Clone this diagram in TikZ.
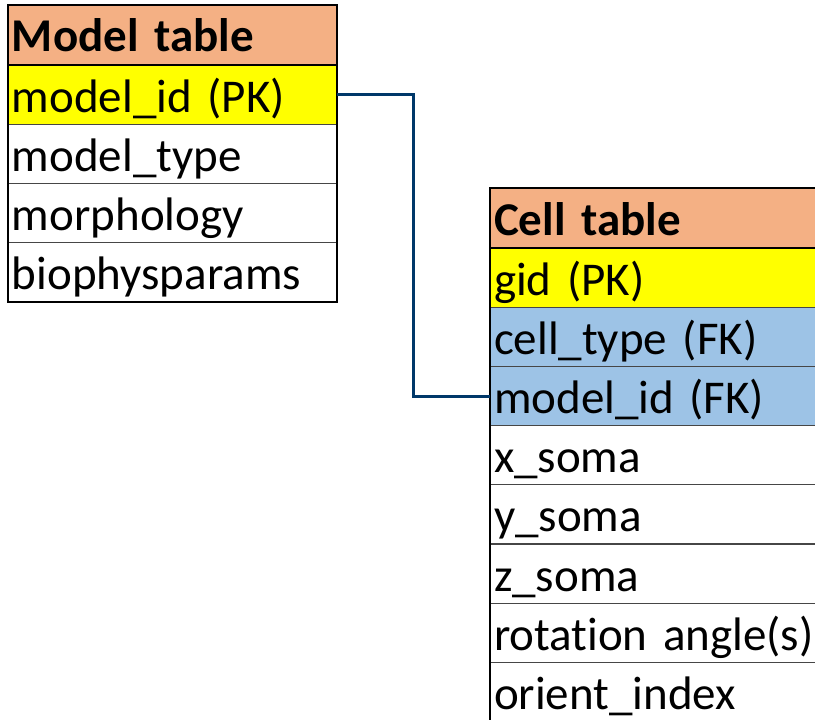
\documentclass[tikz,border=0pt]{standalone}
\usepackage{fontspec}
\setmainfont[Ligatures=NoCommon]{Carlito}
\definecolor{hdr}{RGB}{244,176,132}
\definecolor{pk}{RGB}{255,255,0}
\definecolor{fk}{RGB}{157,195,230}
\definecolor{rowline}{RGB}{70,70,70}
\definecolor{conncol}{RGB}{0,56,105}
\tikzset{
  tabrow/.style={draw=rowline, line width=1.3pt, anchor=north west, inner xsep=4pt, inner ysep=0pt, outer sep=0pt,
    minimum width=#1, text width=#1-8pt, align=left, text height=47pt, text depth=12.2pt,
    font=\fontsize{47}{50}\selectfont},
  tabhead/.style={tabrow=#1, fill=hdr, font=\fontsize{47}{50}\selectfont\bfseries, text height=47pt, text depth=13pt},
  tabframe/.style={draw=black, line width=2.2pt},
  conn/.style={draw=conncol, line width=3pt, line join=miter},
}
\begin{document}
\begin{tikzpicture}[x=1pt,y=-1pt]
\useasboundingbox (0,0) rectangle (815,720);
\clip (0,0) rectangle (815,720);
% Model table
\node[tabhead=329pt] (mh) at (8,5) {Model table};
\node[tabrow=329pt, fill=pk] (m1) at (mh.south west) {model\_id (PK)};
\node[tabrow=329pt] (m2) at (m1.south west) {model\_type};
\node[tabrow=329pt] (m3) at (m2.south west) {morphology};
\node[tabrow=329pt] (m4) at (m3.south west) {biophysparams};
\draw[tabframe] (mh.north west) rectangle (m4.south east);
\draw[black, line width=1.6pt] (mh.south west) -- (mh.south east);
% Cell table
\node[tabhead=345pt] (ch) at (490,188) {Cell table};
\node[tabrow=345pt, fill=pk] (c1) at (ch.south west) {gid (PK)};
\node[tabrow=345pt, fill=fk] (c2) at (c1.south west) {cell\_type (FK)};
\node[tabrow=345pt, fill=fk] (c3) at (c2.south west) {model\_id (FK)};
\node[tabrow=345pt] (c4) at (c3.south west) {x\_soma};
\node[tabrow=345pt] (c5) at (c4.south west) {y\_soma};
\node[tabrow=345pt] (c6) at (c5.south west) {z\_soma};
\node[tabrow=345pt] (c7) at (c6.south west) {rotation angle(s)};
\node[tabrow=345pt] (c8) at (c7.south west) {orient\_index};
\draw[tabframe] (ch.north west) rectangle (c8.south east);
\draw[black, line width=1.6pt] (ch.south west) -- (ch.south east);
% connector
\draw[conn] (m1.east) -- ++(76,0) |- (c3.west);
\end{tikzpicture}
\end{document}
